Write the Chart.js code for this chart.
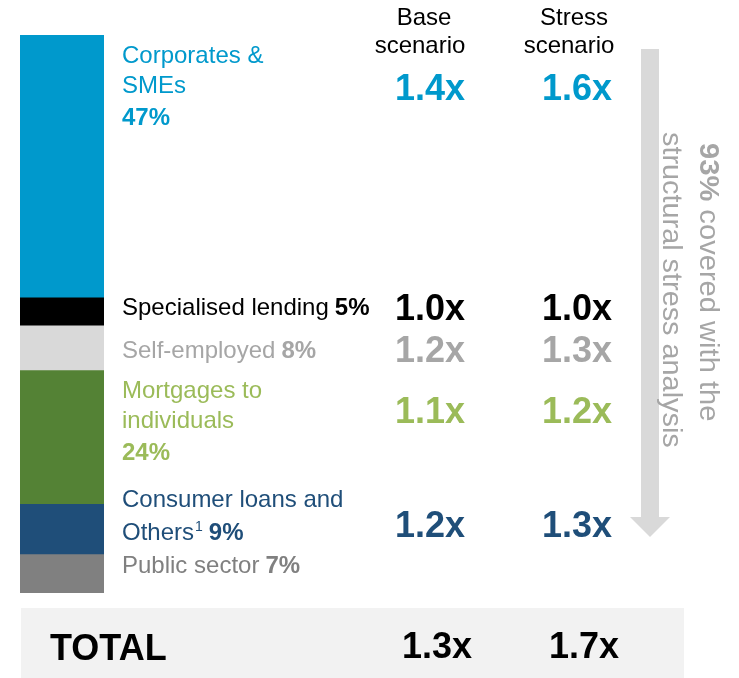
<!DOCTYPE html>
<html>
<head>
<meta charset="utf-8">
<title>Portfolio coverage by segment</title>
<script src="https://cdn.jsdelivr.net/npm/chart.js@4/dist/chart.umd.min.js"></script>
<style>
  html, body { margin: 0; padding: 0; background: #ffffff; }
  #wrap { width: 739px; height: 678px; position: relative; }
</style>
</head>
<body>
<div id="wrap"><canvas id="chart" width="739" height="678"></canvas></div>
<script>
// Portfolio segments (share of portfolio, %)
const segments = ["Corporates & SMEs", "Specialised lending", "Self-employed",
                  "Mortgages to individuals", "Consumer loans and Others", "Public sector"];
const shares = [47, 5, 8, 24, 9, 7];

// Coverage multiples per scenario (public sector not stressed)
const baseScenario   = [1.4, 1.0, 1.2, 1.1, 1.2, null];
const stressScenario = [1.6, 1.0, 1.3, 1.2, 1.3, null];

// Portfolio totals
const totalBase = 1.3;
const totalStress = 1.7;
const coveredShare = 93;

// Colours
const barColors  = ["#0099cc", "#000000", "#d9d9d9", "#548235", "#1f4e79", "#808080"];
const textColors = ["#0099cc", "#000000", "#a6a6a6", "#9bbb59", "#1f4e79", "#808080"];

// Text layout: label lines per segment (baselines in px) and value-row baselines
const labelLayout = [
  { lines: ["Corporates &", "SMEs"], y: [63, 93], pctY: 125 },
  { lines: ["Specialised lending"], y: [315], pctInline: true },
  { lines: ["Self-employed"], y: [358], pctInline: true },
  { lines: ["Mortgages to", "individuals"], y: [398, 428], pctY: 460 },
  { lines: ["Consumer loans and", "Others"], y: [507, 540], pctInline: true, footnote: "1" },
  { lines: ["Public sector"], y: [573], pctInline: true }
];
const valueRowY = [100, 320, 362, 423, 537, null];

const FONT = '"Liberation Sans", Arial, Helvetica, sans-serif';
const LABEL_X = 122;
const BASE_X = 430, STRESS_X = 577;

const fmtX = v => v.toFixed(1) + "x";

const annotations = {
  id: "annotations",
  beforeDraw(chart) {
    const ctx = chart.ctx;
    ctx.save();
    // TOTAL band
    ctx.fillStyle = "#f2f2f2";
    ctx.fillRect(21, 608, 663, 70);
    ctx.restore();
  },
  afterDraw(chart) {
    const ctx = chart.ctx;
    ctx.save();
    ctx.textBaseline = "alphabetic";

    // Column headers
    ctx.fillStyle = "#000000";
    ctx.font = "24px " + FONT;
    ctx.textAlign = "center";
    ctx.fillText("Base", 424, 25);
    ctx.fillText("scenario", 420, 53);
    ctx.fillText("Stress", 574, 25);
    ctx.fillText("scenario", 569, 53);

    // Segment labels
    labelLayout.forEach((lay, i) => {
      ctx.fillStyle = textColors[i];
      ctx.textAlign = "left";
      const pct = shares[i] + "%";
      lay.lines.forEach((line, k) => {
        ctx.font = "24px " + FONT;
        let x = LABEL_X;
        ctx.fillText(line, x, lay.y[k]);
        x += ctx.measureText(line).width;
        const last = k === lay.lines.length - 1;
        if (last && lay.footnote) {
          ctx.font = "14px " + FONT;
          ctx.fillText(lay.footnote, x + 1, lay.y[k] - 9);
          x += ctx.measureText(lay.footnote).width + 1;
        }
        if (last && lay.pctInline) {
          ctx.font = "bold 24px " + FONT;
          ctx.fillText(pct, x + 6, lay.y[k]);
        }
      });
      if (lay.pctY) {
        ctx.font = "bold 24px " + FONT;
        ctx.fillText(pct, LABEL_X, lay.pctY);
      }

      // Multiples
      if (valueRowY[i] !== null && baseScenario[i] !== null) {
        ctx.font = "bold 36px " + FONT;
        ctx.textAlign = "center";
        ctx.fillText(fmtX(baseScenario[i]), BASE_X, valueRowY[i]);
        ctx.fillText(fmtX(stressScenario[i]), STRESS_X, valueRowY[i]);
      }
    });

    // Coverage arrow
    ctx.fillStyle = "#d9d9d9";
    ctx.beginPath();
    ctx.moveTo(641, 49);
    ctx.lineTo(659, 49);
    ctx.lineTo(659, 517);
    ctx.lineTo(670, 517);
    ctx.lineTo(650, 537);
    ctx.lineTo(630, 517);
    ctx.lineTo(641, 517);
    ctx.closePath();
    ctx.fill();

    // Rotated coverage note
    ctx.fillStyle = "#a6a6a6";
    ctx.textAlign = "left";
    ctx.save();
    ctx.translate(700, 143);
    ctx.rotate(Math.PI / 2);
    ctx.scale(1.04, 1);
    ctx.font = "bold 28px " + FONT;
    const head = coveredShare + "%";
    ctx.fillText(head, 0, 0);
    const hw = ctx.measureText(head).width;
    ctx.font = "28px " + FONT;
    ctx.fillText(" covered with the", hw, 0);
    ctx.restore();
    ctx.save();
    ctx.translate(663, 132);
    ctx.rotate(Math.PI / 2);
    ctx.scale(1.03, 1);
    ctx.font = "28px " + FONT;
    ctx.fillText("structural stress analysis", 0, 0);
    ctx.restore();

    // TOTAL row
    ctx.fillStyle = "#000000";
    ctx.font = "bold 36px " + FONT;
    ctx.textAlign = "left";
    ctx.fillText("TOTAL", 50, 660);
    ctx.textAlign = "center";
    ctx.fillText(fmtX(totalBase), 437, 658);
    ctx.fillText(fmtX(totalStress), 584, 658);

    ctx.restore();
  }
};

new Chart(document.getElementById("chart"), {
  type: "bar",
  data: {
    labels: ["Portfolio"],
    datasets: segments.map((name, i) => ({
      label: name,
      data: [shares[i]],
      backgroundColor: barColors[i],
      borderWidth: 0,
      barPercentage: 1,
      categoryPercentage: 1
    }))
  },
  options: {
    responsive: false,
    animation: false,
    devicePixelRatio: 1,
    layout: { padding: { left: 20, right: 635, top: 35, bottom: 85 } },
    plugins: { legend: { display: false }, tooltip: { enabled: false } },
    scales: {
      x: { stacked: true, display: false },
      y: { stacked: true, display: false, min: 0, max: 100, reverse: true }
    }
  },
  plugins: [annotations]
});
</script>
</body>
</html>
